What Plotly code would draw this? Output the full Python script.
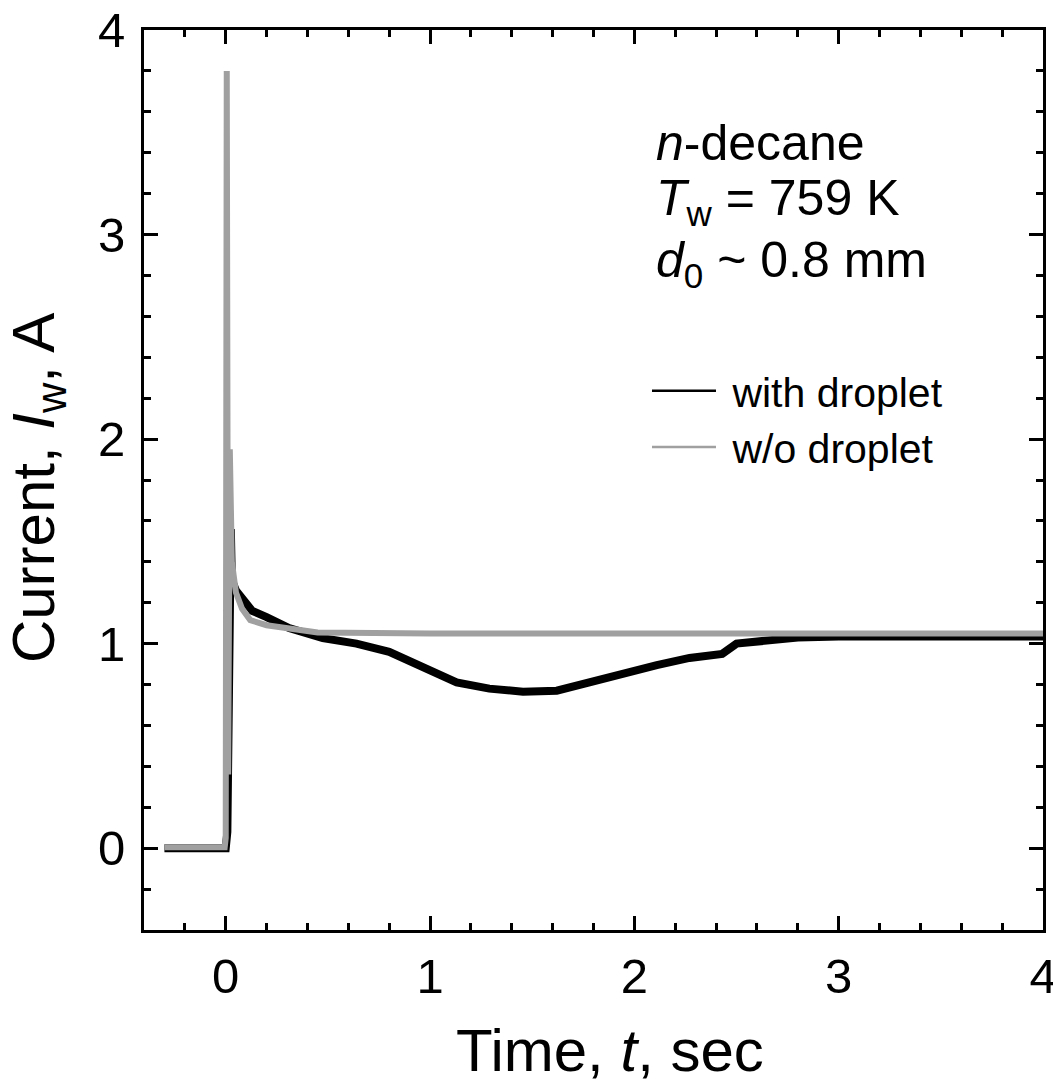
import plotly.graph_objects as go

# ---- data ----
t_with = [-0.30, -0.20, -0.10, -0.005, 0.0, 0.008, 0.025, 0.03, 0.05, 0.085, 0.13, 0.20,
          0.31, 0.475, 0.64, 0.80, 0.965, 1.13, 1.29, 1.455, 1.62, 1.78, 1.945, 2.11,
          2.27, 2.43, 2.50, 2.63, 2.80, 3.00, 3.50, 4.04]
I_with = [0.0, 0.0, 0.0, 0.0, 0.0, 0.08, 1.56, 1.31, 1.26, 1.21, 1.16, 1.13,
          1.076, 1.027, 1.00, 0.96, 0.885, 0.81, 0.78, 0.765, 0.77, 0.81, 0.86, 0.895,
          0.93, 0.95, 1.00, 1.017, 1.03, 1.035, 1.035, 1.035]

t_wo = [-0.30, -0.20, -0.10, -0.005, 0.0, 0.005, 0.012, 0.02, 0.03, 0.05, 0.08, 0.12,
        0.20, 0.36, 0.45, 1.0, 2.0, 3.0, 4.04]
I_wo = [0.005, 0.005, 0.005, 0.005, 0.05, 3.80, 0.36, 1.95, 1.40, 1.25, 1.17, 1.115,
        1.09, 1.065, 1.055, 1.05, 1.05, 1.05, 1.05]

x_ticks = [0, 1, 2, 3, 4]
y_ticks = [0, 1, 2, 3, 4]

x_title = "Time, <i>t</i>, sec"
y_title = "Current, <i>I</i><sub>w</sub>, A"
info_lines = ["<i>n</i>-decane",
              "<i>T</i><sub>w</sub> = 759 K",
              "<i>d</i><sub>0</sub> ~ 0.8 mm"]

FONT = "Liberation Sans, Arial, sans-serif"
BLACK = "#000000"
GREY = "#a0a0a0"

fig = go.Figure()
fig.add_trace(go.Scatter(x=t_with, y=I_with, mode="lines",
                         line=dict(color=BLACK, width=8), showlegend=False))
fig.add_trace(go.Scatter(x=t_wo, y=I_wo, mode="lines",
                         line=dict(color=GREY, width=6), showlegend=False))
# legend entries
fig.add_trace(go.Scatter(x=[None], y=[None], mode="lines", name=" with droplet",
                         line=dict(color=BLACK, width=2.5)))
fig.add_trace(go.Scatter(x=[None], y=[None], mode="lines", name=" w/o droplet",
                         line=dict(color=GREY, width=2.5)))

axis_common = dict(
    showline=True, linecolor="black", linewidth=3, mirror="ticks",
    ticks="inside", ticklen=14, tickwidth=2.5, tickcolor="black",
    showgrid=False, zeroline=False, automargin=False, ticklabeloverflow="allow",
    tickfont=dict(family=FONT, size=49, color="black"),
    minor=dict(ticks="inside", ticklen=7, tickwidth=2.5, tickcolor="black", dtick=0.2, showgrid=False),
)

fig.update_xaxes(range=[-0.4, 4.0], tickvals=x_ticks, ticklabelstandoff=1, **axis_common)
fig.update_yaxes(range=[-0.4, 4.0], tickvals=y_ticks, ticklabelstandoff=6, **axis_common)

# axis titles
fig.add_annotation(xref="paper", yref="paper", x=0.518, y=-0.094,
                   xanchor="center", yanchor="top", showarrow=False,
                   text=x_title, font=dict(family=FONT, size=60, color="black"))
fig.add_annotation(xref="paper", yref="paper", x=-0.118, y=0.492,
                   xanchor="center", yanchor="middle", showarrow=False, textangle=-90,
                   text=y_title, font=dict(family=FONT, size=60, color="black"))

# info text, one annotation per line
for i, line in enumerate(info_lines):
    fig.add_annotation(
        xref="paper", yref="paper", x=0.567, y=0.841 - i * 0.069,
        xanchor="left", yanchor="bottom", align="left", showarrow=False,
        text=line, font=dict(family=FONT, size=50, color="black"),
    )

fig.update_layout(
    width=1061, height=1086,
    margin=dict(l=136, r=26, t=22, b=164),
    paper_bgcolor="white", plot_bgcolor="white",
    legend=dict(x=0.5595, y=0.636, xanchor="left", yanchor="top", itemwidth=64,
                font=dict(family=FONT, size=41, color="black"),
                bgcolor="rgba(0,0,0,0)", tracegroupgap=0),
)

fig.write_html("out.html")
